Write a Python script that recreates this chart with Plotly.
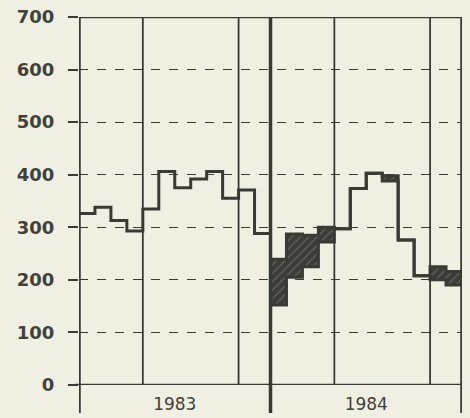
import plotly.graph_objects as go

# Data (monthly values)
months_1983 = list(range(0, 13))
values_1983 = [326, 338, 313, 293, 335, 406, 375, 392, 406, 355, 371, 288]

months_1984 = list(range(12, 25))
upper_1984 = [239, 287, 285, 300, 297, 374, 403, 398, 276, 208, 225, 216]
lower_1984 = [152, 205, 225, 272, 297, 374, 403, 388, 276, 208, 200, 190]

year_labels = ["1983", "1984"]
year_label_pos = [6, 18]
y_ticks = [0, 100, 200, 300, 400, 500, 600, 700]
grid_months = [4, 10, 16, 22]
divider_months = [0, 12, 24]

INK = "#3a3a35"
BG = "#eff0e2"
TXT = "#41413c"

fig = go.Figure()

fig.add_trace(go.Scatter(
    x=months_1983, y=values_1983 + [values_1983[-1]],
    mode="lines", line=dict(shape="hv", color=INK, width=3),
    hoverinfo="skip", showlegend=False))

fig.add_trace(go.Scatter(
    x=months_1984, y=lower_1984 + [lower_1984[-1]],
    mode="lines", line=dict(shape="hv", color=INK, width=3),
    hoverinfo="skip", showlegend=False))

fig.add_trace(go.Scatter(
    x=months_1984, y=upper_1984 + [upper_1984[-1]],
    mode="lines", line=dict(shape="hv", color=INK, width=3),
    fill="tonexty", fillcolor="#3c3c38",
    fillpattern=dict(shape="/", bgcolor="#3c3c38", fgcolor="#8e8e86",
                     size=6, solidity=0.2),
    hoverinfo="skip", showlegend=False))

shapes = []
for m in grid_months:
    shapes.append(dict(type="line", xref="x", yref="paper", x0=m, x1=m,
                       y0=0, y1=1, line=dict(color=INK, width=1.8), layer="below"))
for m in divider_months:
    shapes.append(dict(type="line", xref="x", yref="paper", x0=m, x1=m,
                       y0=-0.076, y1=1, line=dict(color=INK, width=3.5)))
shapes.append(dict(type="line", xref="paper", yref="y", x0=-0.01, x1=1,
                   y0=0, y1=0, line=dict(color=INK, width=2.5)))
shapes.append(dict(type="line", xref="paper", yref="y", x0=0, x1=1,
                   y0=700, y1=700, line=dict(color=INK, width=2.5)))

fig.update_layout(
    width=470, height=418,
    margin=dict(l=79, r=8, t=17, b=33),
    paper_bgcolor=BG, plot_bgcolor=BG,
    shapes=shapes,
    xaxis=dict(range=[0, 24], tickvals=year_label_pos, ticktext=year_labels,
               showgrid=False, zeroline=False, showline=False, ticks="",
               ticklabelstandoff=7, automargin=False,
               tickfont=dict(family="DejaVu Sans", size=17, color=TXT),
               fixedrange=True),
    yaxis=dict(range=[0, 700], tickvals=y_ticks, showgrid=True,
               gridcolor=INK, gridwidth=1.2, griddash="dash",
               zeroline=False, showline=False, ticks="outside", ticklen=10,
               tickwidth=1.5, tickcolor=INK, ticklabelstandoff=10,
               automargin=False,
               tickfont=dict(family="DejaVu Sans", size=18, color=TXT,
                             weight="bold"),
               fixedrange=True),
)

fig.write_html(
    "out.html",
    config={"displayModeBar": False},
    post_script=("document.body.style.margin='0';"
                 "document.body.style.padding='0';"
                 "document.body.style.overflow='hidden';"
                 "document.body.style.background='" + BG + "';"),
)
